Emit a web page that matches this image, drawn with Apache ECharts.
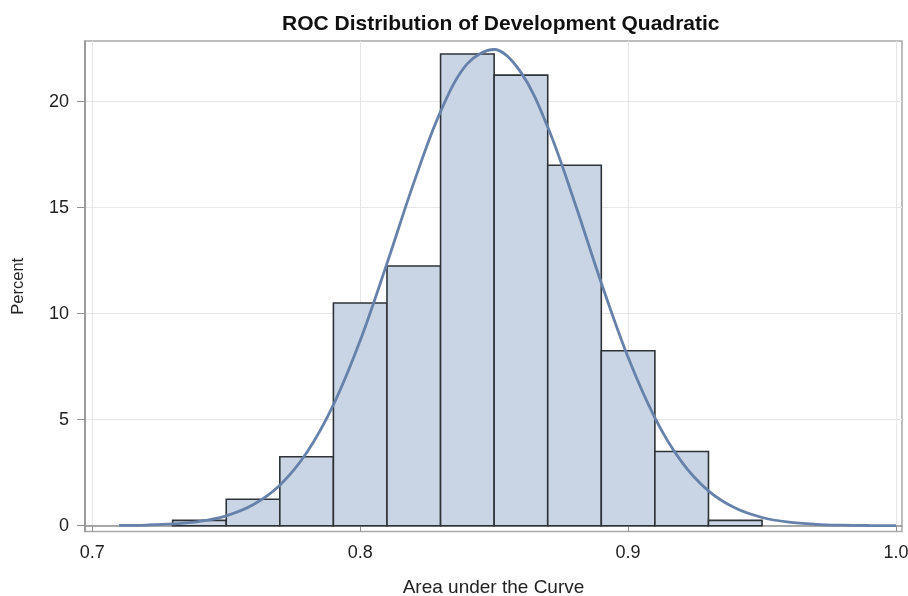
<!DOCTYPE html>
<html>
<head>
<meta charset="utf-8">
<title>ROC Distribution of Development Quadratic</title>
<script src="https://cdn.jsdelivr.net/npm/echarts@6/dist/echarts.min.js"></script>
<style>
  html, body { margin: 0; padding: 0; background: #ffffff; }
  #chart { width: 908px; height: 596px; }
</style>
</head>
<body>
<div id="chart"></div>
<script>
// Histogram bins (left edge of each bin, width 0.02) and their percentages
const binStarts = [0.73, 0.75, 0.77, 0.79, 0.81, 0.83, 0.85, 0.87, 0.89, 0.91, 0.93];
const binWidth = 0.02;
const binPercents = [0.25, 1.25, 3.25, 10.5, 12.25, 22.25, 21.25, 17.0, 8.25, 3.5, 0.25];

// Fitted normal density curve, scaled to percent per bin
const curveX = [0.71, 0.72, 0.73, 0.74, 0.75, 0.76, 0.77, 0.78, 0.79, 0.80,
                0.81, 0.82, 0.83, 0.84, 0.85, 0.86, 0.87, 0.88, 0.89, 0.90,
                0.91, 0.92, 0.93, 0.94, 0.95, 0.96, 0.97, 0.98, 0.99, 1.00];
const curveY = [0.011, 0.031, 0.083, 0.205, 0.467, 0.984, 1.91, 3.44, 5.70, 8.73,
                12.37, 16.17, 19.53, 21.79, 22.46, 21.38, 18.80, 15.27, 11.45, 7.94,
                5.09, 3.01, 1.64, 0.829, 0.386, 0.166, 0.066, 0.024, 0.008, 0.003];

// Axis ticks
const xTicks = [0.7, 0.8, 0.9, 1.0];
const yTicks = [0, 5, 10, 15, 20];

const FONT = '"Liberation Sans", Arial, sans-serif';

const histData = binStarts.map((s, i) => [s, s + binWidth, binPercents[i]]);
const curveData = curveX.map((x, i) => [x, curveY[i]]);

const chart = echarts.init(document.getElementById('chart'), null, { renderer: 'canvas' });

chart.setOption({
  animation: false,
  backgroundColor: '#ffffff',
  title: {
    text: 'ROC Distribution of Development Quadratic',
    left: 277,
    top: 9,
    textStyle: { fontFamily: FONT, fontSize: 21, fontWeight: 'bold', color: '#111111' }
  },
  grid: {
    left: 85, right: 6, top: 41, bottom: 64.5,
    containLabel: false,
    outerBoundsMode: 'none',
    show: true,
    borderColor: '#a9a9a9',
    borderWidth: 1.5,
    backgroundColor: 'transparent'
  },
  xAxis: {
    type: 'value',
    min: 0.69728,
    max: 1.00224,
    name: 'Area under the Curve',
    nameLocation: 'middle',
    nameGap: 47,
    nameTextStyle: { fontFamily: FONT, fontSize: 19, color: '#222222' },
    axisLine: { show: true, lineStyle: { color: '#8f8f8f', width: 1.5 } },
    axisTick: { show: true, length: 6, customValues: xTicks, lineStyle: { color: '#8f8f8f', width: 1 } },
    axisLabel: {
      customValues: xTicks,
      margin: 13,
      fontFamily: FONT, fontSize: 18, color: '#222222',
      formatter: v => v.toFixed(1)
    },
    splitLine: { show: true, lineStyle: { color: '#e6e6e6', width: 1 } }
  },
  yAxis: {
    type: 'value',
    min: -0.274,
    max: 22.86,
    name: 'Percent',
    nameLocation: 'middle',
    nameGap: 58,
    nameTextStyle: { fontFamily: FONT, fontSize: 16.5, color: '#222222' },
    axisLine: { show: true, lineStyle: { color: '#8f8f8f', width: 1.5 } },
    axisTick: { show: true, length: 8, customValues: yTicks, lineStyle: { color: '#8f8f8f', width: 1 } },
    axisLabel: {
      customValues: yTicks,
      margin: 16,
      fontFamily: FONT, fontSize: 18, color: '#222222'
    },
    splitLine: { show: true, lineStyle: { color: '#e6e6e6', width: 1 } }
  },
  series: [
    {
      name: 'Percent',
      type: 'custom',
      data: histData,
      encode: { x: [0, 1], y: 2 },
      renderItem: function (params, api) {
        const p0 = api.coord([api.value(0), 0]);
        const p1 = api.coord([api.value(1), api.value(2)]);
        return {
          type: 'rect',
          shape: { x: p0[0], y: p1[1], width: p1[0] - p0[0], height: p0[1] - p1[1] },
          style: { fill: '#c9d4e5', stroke: '#2e3338', lineWidth: 1.6 }
        };
      },
      z: 2
    },
    {
      name: 'Normal',
      type: 'line',
      data: curveData,
      smooth: 0.35,
      showSymbol: false,
      lineStyle: { color: '#6682ab', width: 2.8 },
      z: 3
    }
  ]
});
</script>
</body>
</html>
